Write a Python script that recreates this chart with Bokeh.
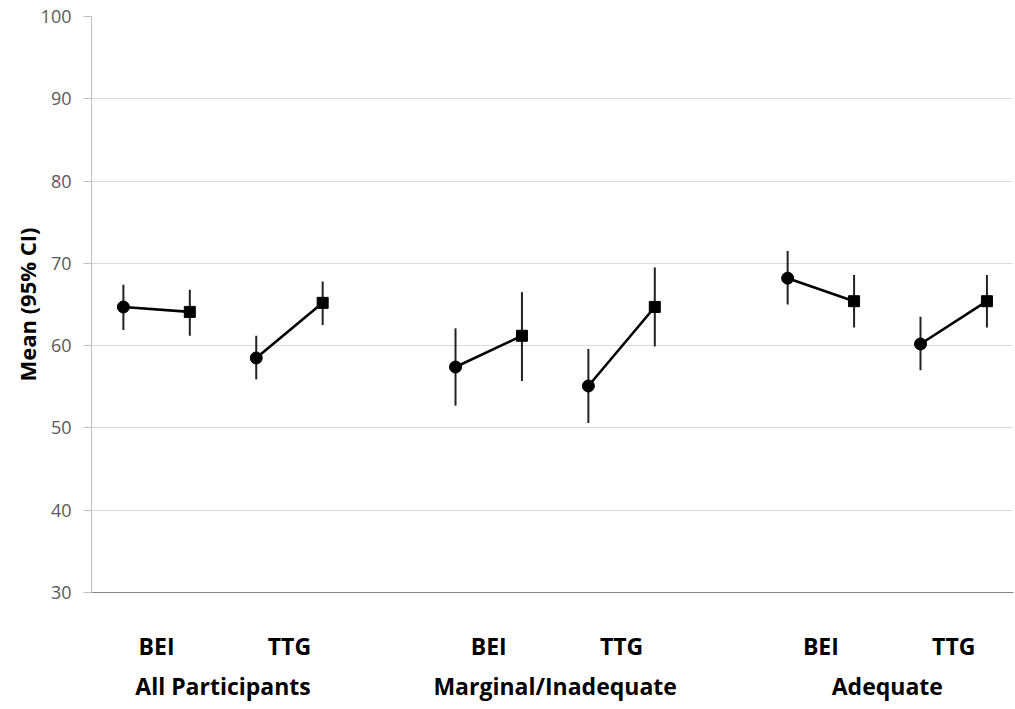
from bokeh.plotting import figure
from bokeh.models import Range1d, LinearAxis, FixedTicker
from bokeh.embed import file_html
from bokeh.resources import INLINE

groups = ["All Participants", "Marginal/Inadequate", "Adequate"]
measures = ["BEI", "TTG"]

# circle (first time point) per group x measure
circle_mean = [64.7, 58.5, 57.4, 55.1, 68.2, 60.2]
circle_lo = [61.9, 55.9, 52.7, 50.6, 65.0, 57.0]
circle_hi = [67.4, 61.2, 62.1, 59.6, 71.5, 63.5]
# square (second time point)
square_mean = [64.1, 65.2, 61.2, 64.7, 65.4, 65.4]
square_lo = [61.2, 62.5, 55.7, 59.9, 62.2, 62.2]
square_hi = [66.8, 67.8, 66.5, 69.5, 68.6, 68.6]

y_ticks = [30, 40, 50, 60, 70, 80, 90, 100]

# x positions
cx, sx, mid, gmid = [], [], [], []
for g in range(len(groups)):
    for m in range(len(measures)):
        x0 = 1 + g * 5 + m * 2
        cx.append(x0)
        sx.append(x0 + 1)
        mid.append(x0 + 0.5)
    gmid.append(1 + g * 5 + 1.5)

FONT = "Open Sans"

p = figure(frame_width=922, frame_height=576, output_backend="svg",
           toolbar_location=None, x_axis_type=None,
           x_range=Range1d(0.52, 14.4), y_range=Range1d(30, 100),
           min_border_left=91, min_border_top=16, min_border_right=2,
           min_border_bottom=112)
p.outline_line_color = None
p.background_fill_color = "white"
p.border_fill_color = "white"

# grid
p.xgrid.visible = False
p.ygrid.grid_line_color = "#d9d9d9"
p.ygrid.grid_line_width = 1
p.ygrid.ticker = FixedTicker(ticks=y_ticks)

# y axis
ya = p.yaxis[0]
ya.ticker = FixedTicker(ticks=y_ticks)
ya.axis_line_color = "#bfbfbf"
ya.major_tick_line_color = "#bfbfbf"
ya.major_tick_out = 8
ya.major_tick_in = 0
ya.minor_tick_line_color = None
ya.major_label_text_font = FONT
ya.major_label_text_font_size = "18px"
ya.major_label_text_color = "#595959"
ya.major_label_standoff = 12
ya.axis_label = "Mean (95% CI)"
ya.axis_label_text_font = FONT
ya.axis_label_text_font_style = "bold"
ya.axis_label_text_font_size = "22px"
ya.axis_label_text_color = "black"
ya.axis_label_standoff = -4

# x axes
ax1 = LinearAxis(ticker=FixedTicker(ticks=mid),
                 major_label_overrides={m: measures[i % 2] for i, m in enumerate(mid)})
ax1.axis_line_color = "#868686"
ax1.axis_line_width = 1
ax1.major_tick_line_color = None
ax1.minor_tick_line_color = None
ax1.major_label_text_font = FONT
ax1.major_label_text_font_style = "bold"
ax1.major_label_text_font_size = "23px"
ax1.major_label_text_color = "black"
ax1.major_label_standoff = 31
p.add_layout(ax1, "below")

ax2 = LinearAxis(ticker=FixedTicker(ticks=gmid),
                 major_label_overrides={m: groups[i] for i, m in enumerate(gmid)})
ax2.axis_line_color = None
ax2.major_tick_line_color = None
ax2.minor_tick_line_color = None
ax2.major_label_text_font = FONT
ax2.major_label_text_font_style = "bold"
ax2.major_label_text_font_size = "23px"
ax2.major_label_text_color = "black"
ax2.major_label_standoff = -1
p.add_layout(ax2, "below")

# error bars
p.segment(x0=cx, y0=circle_lo, x1=cx, y1=circle_hi, line_color="#222222", line_width=2)
p.segment(x0=sx, y0=square_lo, x1=sx, y1=square_hi, line_color="#222222", line_width=2)
# connecting lines
p.segment(x0=cx, y0=circle_mean, x1=sx, y1=square_mean, line_color="black", line_width=2.6)
# markers
p.scatter(x=cx, y=circle_mean, marker="circle", size=12, fill_color="black", line_color="black")
p.scatter(x=sx, y=square_mean, marker="square", size=11, fill_color="black", line_color="black")

open("out.html", "w").write(file_html(p, INLINE))
